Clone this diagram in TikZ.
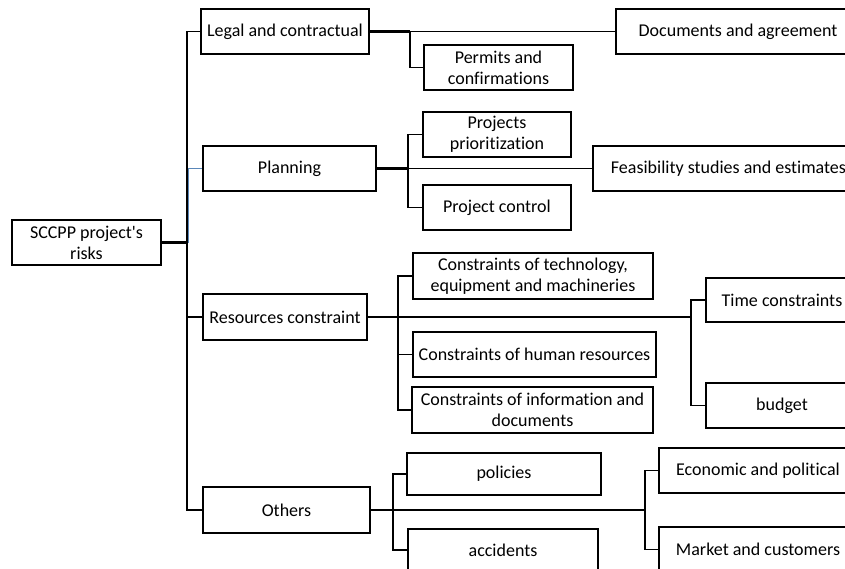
\documentclass[tikz,border=0pt]{standalone}
\usepackage{fontspec}
\setmainfont{Carlito}[Ligatures={TeX,NoCommon}]
\definecolor{linkblue}{RGB}{90,135,185}
\begin{document}
\begin{tikzpicture}[x=1pt,y=-1pt,
  box/.style={draw, line width=1.4pt, inner sep=0pt, align=center, font=\fontsize{18}{21}\selectfont},
  ln/.style={line width=1.3pt},
  thk/.style={line width=2.5pt}]
\useasboundingbox (0,0) rectangle (845,569);
\clip (0,0) rectangle (845,569);
% level 0
\node[box, minimum width=149pt, minimum height=45pt] (root) at (86.5,242.5) {SCCPP project\textquotesingle s\\risks};
% level 1
\node[box, minimum width=168pt, minimum height=45pt] (legal) at (285,31.5) {Legal and contractual};
\node[box, minimum width=173pt, minimum height=45pt] (planning) at (289.5,168.5) {Planning};
\node[box, minimum width=164pt, minimum height=46pt] (resources) at (285,317) {Resources constraint};
\node[box, minimum width=167pt, minimum height=46pt] (others) at (286.5,510) {Others};
% level 2
\node[box, minimum width=244pt, minimum height=45pt] (documents) at (738,31.5) {Documents and agreement};
\node[box, minimum width=149pt, minimum height=45pt] (permits) at (498.5,67.5) {Permits and\\confirmations};
\node[box, minimum width=148pt, minimum height=45pt] (prior) at (497,134.5) {Projects\\prioritization};
\node[box, minimum width=271pt, minimum height=45pt] (feas) at (728.5,168.5) {Feasibility studies and estimates};
\node[box, minimum width=148pt, minimum height=45pt] (control) at (497,207.5) {Project control};
\node[box, minimum width=240pt, minimum height=46pt] (tech) at (533,276) {Constraints of technology,\\equipment and machineries};
\node[box, minimum width=243pt, minimum height=45pt] (human) at (534.5,354.5) {Constraints of human resources};
\node[box, minimum width=241pt, minimum height=46pt] (info) at (532.5,410) {Constraints of information and\\documents};
\node[box, minimum width=152pt, minimum height=44pt] (time) at (782,300) {Time constraints};
\node[box, minimum width=152pt, minimum height=45pt] (budget) at (782,405.5) {budget};
\node[box, minimum width=194pt, minimum height=42pt] (policies) at (504,474) {policies};
\node[box, minimum width=190pt, minimum height=42pt] (accidents) at (503,550) {accidents};
\node[box, minimum width=198pt, minimum height=45pt] (economic) at (758,470.5) {Economic and political};
\node[box, minimum width=198pt, minimum height=45pt] (market) at (758,549.5) {Market and customers};
% junctions
\coordinate (trunk) at (187,242.5);
\coordinate (jL) at (410,31.5);
\coordinate (jP) at (408,168.5);
\coordinate (jR) at (398,317);
\coordinate (jR2) at (691,317);
\coordinate (jO) at (393,510);
\coordinate (jO2) at (645,510);
% trunk
\draw[thk] (root.east) -- (trunk);
\draw[ln] (trunk) |- (legal.west);
\draw[ln] (trunk) |- (resources.west);
\draw[ln] (trunk) |- (others.west);
\draw[ln, linkblue] ([xshift=1.5pt]trunk) |- (planning.west);
% legal
\draw[thk] (legal.east) -- (jL);
\draw[ln] (jL) -- (documents.west);
\draw[ln] (jL) |- (permits.west);
% planning
\draw[thk] (planning.east) -- (jP);
\draw[ln] (jP) -- (feas.west);
\draw[ln] (jP) |- (prior.west);
\draw[ln] (jP) |- (control.west);
% resources
\draw[thk] (resources.east) -- (jR);
\draw[ln] (jR) |- (tech.west);
\draw[ln] (jR) |- (human.west);
\draw[ln] (jR) |- (info.west);
\draw[ln, line width=1.6pt] (jR) -- (jR2);
\draw[ln] (jR2) |- (time.west);
\draw[ln] (jR2) |- (budget.west);
% others
\draw[thk] (others.east) -- (jO);
\draw[ln] (jO) |- (policies.west);
\draw[ln] (jO) |- (accidents.west);
\draw[ln, line width=1.8pt] (jO) -- (jO2);
\draw[ln] (jO2) |- (economic.west);
\draw[ln] (jO2) |- (market.west);
\end{tikzpicture}
\end{document}
